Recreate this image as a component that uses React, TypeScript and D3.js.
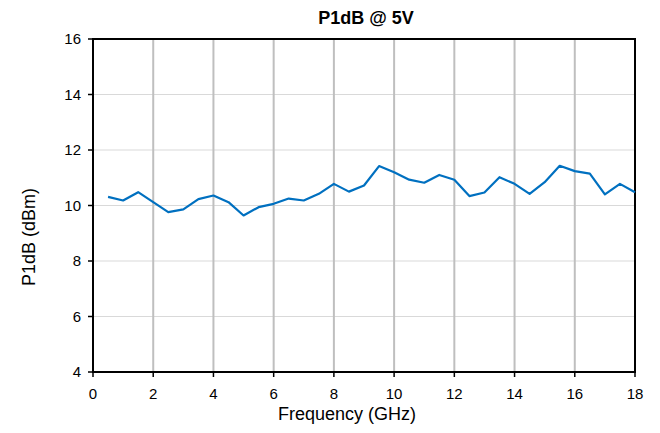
import React from "react";
import * as d3 from "d3";

// frequency in GHz, P1dB in dBm
const freqs = [
  0.5, 1, 1.5, 2, 2.5, 3, 3.5, 4, 4.5, 5, 5.5, 6, 6.5, 7, 7.5, 8, 8.5, 9,
  9.5, 10, 10.5, 11, 11.5, 12, 12.5, 13, 13.5, 14, 14.5, 15, 15.5, 16, 16.5,
  17, 17.5, 18,
];
const p1db = [
  10.31, 10.18, 10.48, 10.12, 9.76, 9.86, 10.23, 10.36, 10.12, 9.64, 9.94,
  10.06, 10.25, 10.18, 10.42, 10.78, 10.5, 10.72, 11.42, 11.2, 10.93, 10.82,
  11.1, 10.93, 10.34, 10.47, 11.02, 10.78, 10.42, 10.84, 11.43, 11.24, 11.15,
  10.4, 10.78, 10.48,
];
const xTicks = [0, 2, 4, 6, 8, 10, 12, 14, 16, 18];
const yTicks = [4, 6, 8, 10, 12, 14, 16];

const W = 660;
const H = 433;
const font = "'Liberation Sans', Arial, sans-serif";

export default function App() {
  const x = d3.scaleLinear().domain([0, 18]).range([93, 635]);
  const y = d3.scaleLinear().domain([4, 16]).range([372, 39]);
  const line = d3
    .line<number>()
    .x((_, i) => x(freqs[i]))
    .y((d) => y(d));
  const [x0, x1] = x.range();
  const [y0, y1] = y.range();

  return (
    <svg
      width={W}
      height={H}
      style={{ position: "absolute", left: 0, top: 0, background: "#fff" }}
      fontFamily={font}
    >
      {yTicks.map((t) => (
        <line key={"h" + t} x1={x0} x2={x1} y1={y(t)} y2={y(t)} stroke="#d9d9d9" strokeWidth={1} />
      ))}
      {xTicks.map((t) => (
        <line key={"v" + t} x1={x(t)} x2={x(t)} y1={y0} y2={y1} stroke="#bfbfbf" strokeWidth={2} />
      ))}
      <rect x={x0} y={y1} width={x1 - x0} height={y0 - y1} fill="none" stroke="#000" strokeWidth={2} />
      {yTicks.map((t) => (
        <g key={"yt" + t}>
          <line x1={x0 - 5} x2={x0} y1={y(t)} y2={y(t)} stroke="#000" strokeWidth={1.5} />
          <text x={x0 - 12} y={y(t)} dy="0.35em" textAnchor="end" fontSize={15} fill="#000">
            {t}
          </text>
        </g>
      ))}
      {xTicks.map((t) => (
        <g key={"xt" + t}>
          <line x1={x(t)} x2={x(t)} y1={y0} y2={y0 + 5} stroke="#000" strokeWidth={1.5} />
          <text x={x(t)} y={y0 + 27} textAnchor="middle" fontSize={15} fill="#000">
            {t}
          </text>
        </g>
      ))}
      <path d={line(p1db) ?? ""} fill="none" stroke="#0070c0" strokeWidth={2.2} strokeLinejoin="round" />
      <text x={366} y={24} textAnchor="middle" fontSize={18} fontWeight="bold">
        P1dB @ 5V
      </text>
      <text x={347} y={420} textAnchor="middle" fontSize={18}>
        Frequency (GHz)
      </text>
      <text transform="translate(35,237) rotate(-90)" textAnchor="middle" fontSize={18}>
        P1dB (dBm)
      </text>
    </svg>
  );
}
